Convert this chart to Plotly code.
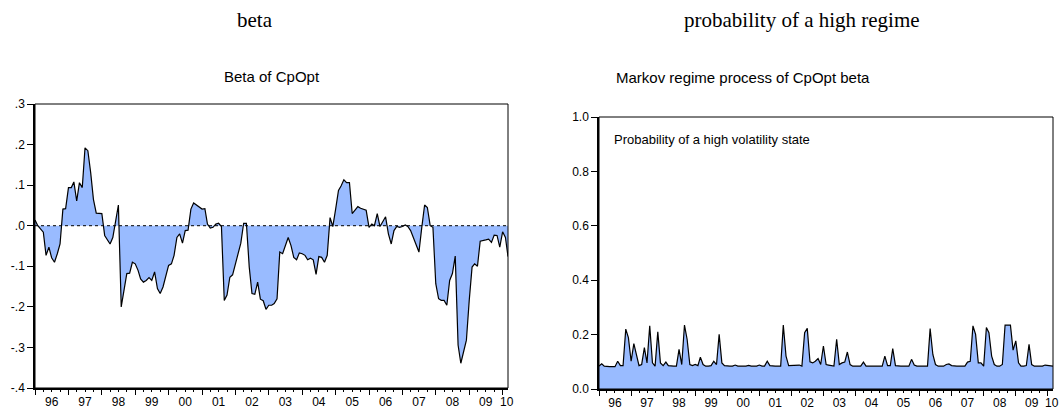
import pandas as pd
import plotly.graph_objects as go

# ---- data (monthly, Jan 1996 - Mar 2010) ----
beta = [
    0.014, 0.000, -0.008, -0.016, -0.073, -0.053, -0.079, -0.090, -0.069, -0.045,
    0.041, 0.042, 0.094, 0.094, 0.108, 0.061, 0.106, 0.094, 0.192, 0.185,
    0.131, 0.065, 0.031, 0.030, 0.030, -0.024, -0.035, -0.045, -0.029, 0.012,
    0.051, -0.200, -0.163, -0.118, -0.117, -0.090, -0.094, -0.110, -0.131, -0.139,
    -0.135, -0.128, -0.135, -0.114, -0.155, -0.167, -0.151, -0.127, -0.098, -0.094,
    -0.073, -0.029, -0.020, -0.043, -0.012, -0.011, 0.041, 0.056, 0.051, 0.047,
    0.041, 0.042, 0.004, -0.006, -0.004, 0.004, 0.006, -0.002, -0.184, -0.171,
    -0.127, -0.121, -0.094, -0.069, -0.043, 0.006, 0.006, -0.102, -0.167, -0.169,
    -0.139, -0.181, -0.185, -0.206, -0.196, -0.196, -0.192, -0.180, -0.065, -0.069,
    -0.049, -0.029, -0.049, -0.078, -0.084, -0.067, -0.069, -0.073, -0.084, -0.080,
    -0.084, -0.120, -0.076, -0.078, -0.090, -0.073, 0.020, -0.002, 0.041, 0.087,
    0.098, 0.113, 0.106, 0.106, 0.030, 0.038, 0.047, 0.043, 0.041, 0.038,
    -0.004, 0.004, 0.000, 0.030, -0.002, 0.011, 0.022, -0.020, -0.045, -0.012,
    -0.002, -0.004, -0.002, 0.002, -0.002, -0.012, -0.029, -0.047, -0.065, -0.004,
    0.051, 0.045, 0.000, -0.004, -0.143, -0.180, -0.184, -0.184, -0.196, -0.135,
    -0.118, -0.075, -0.294, -0.339, -0.306, -0.282, -0.184, -0.102, -0.094, -0.100,
    -0.038, -0.037, -0.035, -0.033, -0.041, -0.023, -0.024, -0.053, -0.015, -0.029,
    -0.076,
]

prob_high = [
    0.084, 0.093, 0.084, 0.082, 0.082, 0.082, 0.082, 0.102, 0.086, 0.086,
    0.220, 0.189, 0.102, 0.167, 0.127, 0.086, 0.090, 0.152, 0.096, 0.232,
    0.096, 0.084, 0.210, 0.096, 0.086, 0.099, 0.086, 0.084, 0.084, 0.084,
    0.146, 0.090, 0.235, 0.183, 0.090, 0.086, 0.090, 0.086, 0.117, 0.090,
    0.084, 0.084, 0.086, 0.102, 0.090, 0.201, 0.096, 0.086, 0.084, 0.084,
    0.084, 0.088, 0.084, 0.084, 0.084, 0.084, 0.087, 0.084, 0.084, 0.084,
    0.088, 0.084, 0.084, 0.102, 0.086, 0.084, 0.084, 0.084, 0.084, 0.235,
    0.121, 0.086, 0.086, 0.088, 0.086, 0.088, 0.084, 0.207, 0.223, 0.100,
    0.096, 0.102, 0.112, 0.090, 0.158, 0.090, 0.088, 0.086, 0.084, 0.183,
    0.090, 0.096, 0.099, 0.136, 0.090, 0.084, 0.084, 0.084, 0.084, 0.099,
    0.084, 0.084, 0.084, 0.084, 0.084, 0.084, 0.084, 0.121, 0.086, 0.086,
    0.149, 0.086, 0.084, 0.084, 0.084, 0.084, 0.084, 0.109, 0.088, 0.084,
    0.084, 0.084, 0.084, 0.084, 0.222, 0.127, 0.090, 0.084, 0.084, 0.084,
    0.090, 0.092, 0.086, 0.084, 0.084, 0.084, 0.084, 0.084, 0.099, 0.102,
    0.232, 0.201, 0.096, 0.096, 0.084, 0.226, 0.207, 0.121, 0.090, 0.084,
    0.084, 0.090, 0.235, 0.235, 0.235, 0.143, 0.177, 0.096, 0.084, 0.084,
    0.086, 0.164, 0.090, 0.084, 0.084, 0.084, 0.084, 0.088, 0.087, 0.084,
    0.084,
]

year_labels = ["96", "97", "98", "99", "00", "01", "02", "03", "04", "05",
               "06", "07", "08", "09", "10"]
beta_ticks = [-0.4, -0.3, -0.2, -0.1, 0.0, 0.1, 0.2, 0.3]
beta_ticktext = ["-.4", "-.3", "-.2", "-.1", ".0", ".1", ".2", ".3"]
prob_ticks = [0.0, 0.2, 0.4, 0.6, 0.8, 1.0]
prob_ticktext = ["0.0", "0.2", "0.4", "0.6", "0.8", "1.0"]

dates = pd.date_range("1996-01-01", periods=len(beta), freq="MS")
x_range = ["1996-01-01", "2010-03-01"]
year_ticks = [f"{y}-01-01" for y in range(1996, 2011)]
label_pos = [f"{y}-07-01" for y in range(1996, 2010)] + ["2010-02-15"]

FILL = "rgb(153,187,255)"
SANS = "Liberation Sans, Arial, sans-serif"
SERIF = "Liberation Serif, Times New Roman, serif"
tickfont = dict(family=SANS, size=12, color="black")

fig = go.Figure()
fig.add_trace(go.Scatter(x=dates, y=beta, mode="lines", fill="tozeroy",
                         fillcolor=FILL, line=dict(color="black", width=1.2),
                         xaxis="x", yaxis="y", hoverinfo="skip"))
fig.add_trace(go.Scatter(x=dates, y=prob_high, mode="lines", fill="tozeroy",
                         fillcolor=FILL, line=dict(color="black", width=1.2),
                         xaxis="x2", yaxis="y2", hoverinfo="skip"))
# empty helper traces so that the tick-only overlay axes are drawn
fig.add_trace(go.Scatter(x=[dates[0]], y=[None], xaxis="x3", yaxis="y",
                         showlegend=False, hoverinfo="skip"))
fig.add_trace(go.Scatter(x=[dates[0]], y=[None], xaxis="x4", yaxis="y2",
                         showlegend=False, hoverinfo="skip"))

L_dom = [35 / 1060, 508 / 1060]
L_ydom = [(411 - 388) / 411, (411 - 104) / 411]
R_dom = [599 / 1060, 1053 / 1060]
R_ydom = [(411 - 389) / 411, (411 - 117) / 411]

def label_axis(domain, anchor):
    return dict(domain=domain, anchor=anchor, range=x_range, type="date",
                tickmode="array", tickvals=label_pos, ticktext=year_labels,
                ticks="outside", ticklen=2, tickcolor="rgba(0,0,0,0)",
                showline=True, linecolor="black", linewidth=1.5,
                showgrid=False, zeroline=False, tickfont=tickfont,
                automargin=False)

def tick_axis(overlay, anchor):
    return dict(overlaying=overlay, anchor=anchor, range=x_range, type="date",
                tickmode="array", tickvals=year_ticks, ticks="outside",
                ticklen=6, tickcolor="black", tickwidth=1,
                showticklabels=False, showline=False, showgrid=False,
                zeroline=False, automargin=False,
                minor=dict(ticks="outside", ticklen=3, tickcolor="black",
                           tickwidth=1, dtick="M3", tick0="1996-01-01",
                           showgrid=False))

fig.update_layout(
    width=1060, height=411,
    margin=dict(l=0, r=0, t=0, b=0, pad=0),
    paper_bgcolor="white", plot_bgcolor="white",
    showlegend=False,
    xaxis=label_axis(L_dom, "y"),
    xaxis2=label_axis(R_dom, "y2"),
    xaxis3=tick_axis("x", "y"),
    xaxis4=tick_axis("x2", "y2"),
    yaxis=dict(domain=L_ydom, anchor="x", range=[-0.4, 0.3],
               tickmode="array", tickvals=beta_ticks, ticktext=beta_ticktext,
               ticks="outside", ticklen=6, tickcolor="black",
               showline=True, linecolor="black", linewidth=1.5,
               showgrid=False, zeroline=False, tickfont=tickfont,
               automargin=False),
    yaxis2=dict(domain=R_ydom, anchor="x2", range=[0, 1],
                tickmode="array", tickvals=prob_ticks, ticktext=prob_ticktext,
                ticks="outside", ticklen=6, tickcolor="black",
                showline=True, linecolor="black", linewidth=1.5,
                showgrid=False, zeroline=False, tickfont=tickfont,
                automargin=False),
)

shapes = [
    dict(type="rect", xref="x domain", yref="y domain", x0=0, x1=1, y0=0, y1=1,
         line=dict(color="black", width=1), layer="above"),
    dict(type="rect", xref="x2 domain", yref="y2 domain", x0=0, x1=1, y0=0, y1=1,
         line=dict(color="black", width=1), layer="above"),
    dict(type="line", xref="x domain", yref="y", x0=0, x1=1, y0=0, y1=0,
         line=dict(color="black", width=1, dash="dot"), layer="above"),
]
fig.update_layout(shapes=shapes)

annotations = [
    dict(text="beta", x=255 / 1060, y=1 - 20 / 411, xref="paper", yref="paper",
         xanchor="center", yanchor="middle", showarrow=False,
         font=dict(family=SERIF, size=21, color="black")),
    dict(text="probability of a high regime", x=802 / 1060, y=1 - 20 / 411,
         xref="paper", yref="paper", xanchor="center", yanchor="middle",
         showarrow=False, font=dict(family=SERIF, size=21, color="black")),
    dict(text="Beta of CpOpt", x=272 / 1060, y=1 - 76 / 411, xref="paper",
         yref="paper", xanchor="center", yanchor="middle", showarrow=False,
         font=dict(family=SANS, size=15, color="black")),
    dict(text="Markov regime process of CpOpt beta", x=742.5 / 1060,
         y=1 - 77 / 411, xref="paper", yref="paper", xanchor="center",
         yanchor="middle", showarrow=False,
         font=dict(family=SANS, size=15, color="black")),
    dict(text="Probability of a high volatility state", x=0.0286, y=0.919,
         xref="x2 domain", yref="y2 domain", xanchor="left", yanchor="middle",
         showarrow=False, font=dict(family=SANS, size=13, color="black")),
]
fig.update_layout(annotations=annotations)

fig.write_html("out.html")
